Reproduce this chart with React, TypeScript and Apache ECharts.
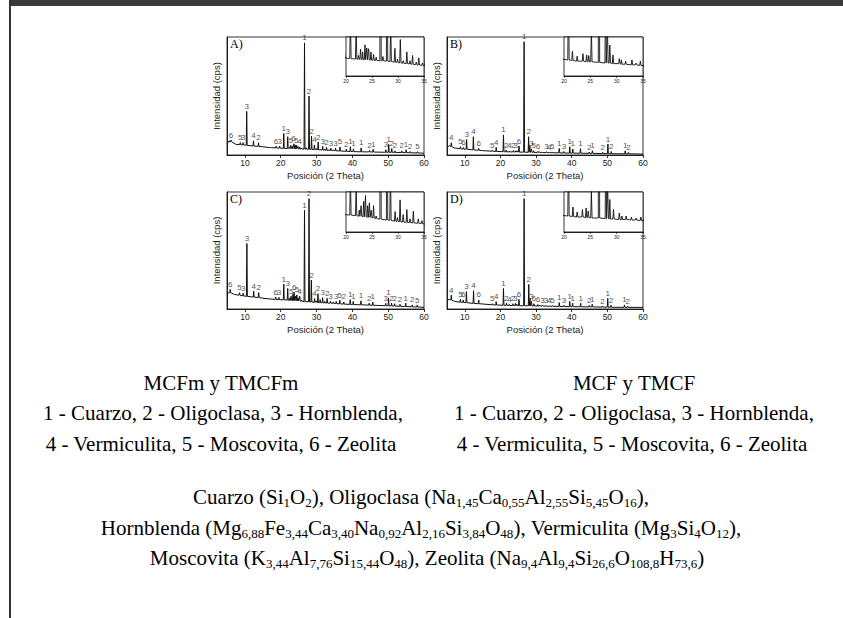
import React, { useEffect, useRef } from 'react';
import * as echarts from 'echarts';

type Peak = [number, number, number, string];

// [2θ, peak top, local baseline, mineral label]
const peaksA: Peak[] = [
  [5.0, 10, 10, ''], [5.6, 12, 11, ''], [6.1, 12.7, 11.4, '6'], [7.5, 9, 9, ''],
  [8.7, 10.5, 8.8, '5'], [9.5, 10.5, 8.6, '3'], [10.5, 37, 8.2, '3'], [12.4, 12, 7.6, '4'],
  [13.8, 10.4, 7.3, '2'], [15, 7, 7, ''], [17, 6.4, 6.3, ''], [18.7, 7.6, 6, '6'],
  [19.7, 7.6, 5.8, '3'], [20.85, 18.3, 5.6, '1'], [21.95, 15.5, 5.5, '3'], [22.4, 6.5, 5.4, ''],
  [22.8, 8.3, 5.4, '5'], [23.2, 7.5, 5.3, ''], [23.65, 9.5, 5.3, '6'], [24.0, 8.6, 5.3, ''],
  [24.35, 8.4, 5.2, '5'], [24.8, 7.5, 5.2, ''], [25.3, 6.8, 5.1, '4'], [25.8, 6, 5.1, ''],
  [26.64, 95, 5, '1'], [27.1, 6.2, 5, ''], [27.9, 50, 4.9, '2'], [28.6, 16, 4.8, '2'],
  [29.4, 8.5, 4.6, '4'], [29.9, 5.5, 4.5, ''], [30.45, 11, 4.4, '2'], [31.0, 5, 4.3, ''],
  [31.7, 7.5, 4.2, '3'], [32.3, 5, 4.1, ''], [32.8, 6.5, 4.0, '2'], [33.5, 4.6, 3.9, ''],
  [34.0, 5.8, 3.8, '3'], [34.7, 4.4, 3.7, ''], [35.3, 5.8, 3.6, '3'], [36.55, 6.8, 3.4, '5'],
  [38.3, 5, 3.1, '2'], [39.45, 7, 3.0, '1'], [40.3, 5.2, 2.9, '1'], [42.45, 6, 2.7, '1'],
  [44.8, 4, 2.6, '2'], [45.8, 4.8, 2.5, '1'], [49.35, 4.5, 2.3, '3'], [50.15, 9, 2.3, '1'],
  [51.0, 5.5, 2.3, '2'], [51.9, 3.5, 2.2, '2'], [53.8, 3.5, 2.1, '2'], [55.0, 4.5, 2.0, '1'],
  [56.1, 3, 1.9, '2'], [58.2, 2.8, 1.7, '5'], [60, 1.5, 1.5, ''],
];

const peaksB: Peak[] = [
  [5.0, 7, 7, ''], [5.7, 8, 7.5, ''], [6.2, 10.4, 7.2, '4'], [7.0, 6, 6, ''],
  [8.75, 7, 5.3, '5'], [9.6, 6.3, 5.0, '6'], [10.5, 13.2, 4.9, '3'], [12.4, 15.5, 4.3, '4'],
  [13.9, 5.6, 4.0, '6'], [15, 3.7, 3.7, ''], [17.7, 4.2, 3.2, '5'], [18.8, 6.5, 3.0, '4'],
  [20.85, 17, 2.8, '1'], [21.6, 4.2, 2.7, '2'], [22.5, 3.4, 2.6, '4'], [23.6, 3.8, 2.6, '2'],
  [24.3, 3.6, 2.5, '3'], [24.7, 3.5, 2.5, ''], [25.2, 7.6, 2.5, '6'], [26.64, 96, 2.4, '1'],
  [27.9, 15.5, 2.3, '2'], [28.25, 8, 2.3, ''], [28.7, 5.2, 2.3, '3'], [29.3, 3.6, 2.2, '5'],
  [30.5, 3.0, 2.2, '6'], [30.9, 2.8, 2.1, ''], [31.7, 2.6, 2.1, ''], [32.9, 2.8, 2.0, '3'],
  [33.7, 2.3, 2.0, '4'], [34.5, 2.6, 1.9, '5'], [36.5, 5.6, 1.8, '1'], [37.8, 3.0, 1.7, '3'],
  [39.45, 7, 1.6, '1'], [40.3, 5.1, 1.6, '1'], [42.45, 5.4, 1.5, '1'], [44.9, 2.5, 1.4, '2'],
  [45.8, 3.7, 1.4, '1'], [48.7, 2.3, 1.2, '2'], [50.15, 9.3, 1.2, '1'], [51.1, 3.0, 1.1, '2'],
  [55.0, 3.5, 1.0, '1'], [55.9, 2.2, 1.0, '2'], [60, 0.8, 0.8, ''],
];

const peaksC: Peak[] = [
  [5.0, 13.4, 13.4, ''], [5.9, 16.8, 14, '6'], [7.0, 12.5, 12.5, ''], [8.5, 13.9, 11.8, '5'],
  [9.5, 13.5, 11.2, '3'], [10.55, 56, 10.8, '3'], [12.45, 15.3, 10.2, '4'], [13.85, 14, 9.8, '2'],
  [15, 9.2, 9.2, ''], [17, 8.6, 8.6, ''], [18.6, 10.2, 8.2, '6'], [19.5, 10, 8, '3'],
  [20.85, 21.3, 7.8, '1'], [21.95, 17.6, 7.6, '3'], [22.55, 9.5, 7.4, ''], [22.9, 11, 7.4, '5'],
  [23.4, 12.5, 7.2, ''], [23.75, 14.5, 7.2, '6'], [24.15, 11, 7.0, ''], [24.5, 12, 7.0, '5'],
  [24.85, 9.5, 6.9, ''], [25.3, 11, 6.8, '4'], [25.8, 7.5, 6.6, ''], [26.64, 84.4, 6.4, '1'],
  [27.9, 94.3, 6.1, '2'], [28.55, 24.7, 6.0, '2'], [29.45, 9, 5.7, '4'], [29.9, 7, 5.6, ''],
  [30.4, 13, 5.5, '2'], [31.0, 8, 5.4, ''], [31.7, 9.7, 5.3, '3'], [32.3, 6.5, 5.2, ''],
  [32.95, 9.1, 5.1, '2'], [33.9, 6.5, 5.0, '3'], [34.6, 5.9, 4.9, ''], [35.5, 6.5, 4.6, '3'],
  [36.5, 7.5, 4.4, '5'], [37.6, 6, 4.2, '2'], [39.4, 8, 3.9, '1'], [40.25, 6.5, 3.8, '1'],
  [42.4, 7, 3.6, '1'], [44.7, 5, 3.3, '2'], [45.7, 6, 3.2, '1'], [49.3, 4.8, 2.8, '3'],
  [50.1, 9.5, 2.7, '1'], [50.95, 5, 2.6, '2'], [51.8, 4.5, 2.5, '2'], [53.3, 4, 2.3, '2'],
  [54.9, 5, 2.1, '1'], [56.7, 3.5, 1.9, '2'], [58.1, 3.3, 1.7, '5'], [60, 1.4, 1.4, ''],
];

const peaksD: Peak[] = [
  [5.0, 7.7, 7.7, ''], [5.7, 8.5, 8, ''], [6.2, 11.9, 7.6, '4'], [7.2, 6.5, 6.5, ''],
  [8.75, 8.2, 5.8, '5'], [9.55, 7.7, 5.6, '6'], [10.45, 14.8, 5.4, '3'], [12.45, 15.6, 4.8, '4'],
  [13.9, 7.7, 4.5, '6'], [15, 4.3, 4.3, ''], [17.7, 4.5, 3.6, '5'], [18.8, 6.3, 3.4, '4'],
  [20.85, 17.6, 3.2, '1'], [21.7, 5.0, 3.1, '2'], [22.5, 4.0, 3.0, '4'], [23.5, 4.5, 3.0, '2'],
  [24.2, 4.8, 2.9, '3'], [24.6, 4.2, 2.9, ''], [25.2, 8.2, 2.8, '6'], [26.64, 94.3, 2.8, '1'],
  [27.95, 21, 2.7, '2'], [28.3, 9, 2.7, ''], [28.7, 6.5, 2.6, '3'], [29.4, 4.5, 2.6, '6'],
  [30.5, 3.8, 2.5, '6'], [31.0, 3.2, 2.5, ''], [31.8, 3.2, 2.5, '3'], [32.8, 3.0, 2.4, '3'],
  [33.7, 2.8, 2.4, '4'], [34.6, 3.0, 2.3, '5'], [36.5, 5.5, 2.2, '1'], [37.8, 3.2, 2.1, '3'],
  [39.45, 6.5, 2.0, '1'], [40.25, 5, 2.0, '1'], [42.5, 5, 1.9, '1'], [44.9, 3, 1.8, '2'],
  [45.75, 4, 1.8, '1'], [48.6, 2.5, 1.6, '2'], [50.1, 9.1, 1.6, '1'], [51.0, 3.2, 1.5, '2'],
  [54.8, 3.5, 1.4, '1'], [55.7, 2.4, 1.4, '2'], [60, 1.4, 1.4, ''],
];

const panels = [peaksA, peaksB, peaksC, peaksD];
const panelLetters = ['A)', 'B)', 'C)', 'D)'];
const xTicksMain = [10, 20, 30, 40, 50, 60];
const insetXMin = 20;
const insetXMax = 35;
const insetYRanges = [[0.7, 11.7], [0.2, 6.5], [2, 15.7], [0, 8]];

const xAxisName = 'Posición (2 Theta)';
const yAxisName = 'Intensidad (cps)';

const legendLeftTitle = 'MCFm y TMCFm';
const legendRightTitle = 'MCF y TMCF';
const legendLine1 = '1 - Cuarzo, 2 - Oligoclasa, 3 - Hornblenda,';
const legendLine2 = '4 - Vermiculita, 5 - Moscovita, 6 - Zeolita';
const formulaLines = [
  'Cuarzo (Si{s|1}O{s|2}), Oligoclasa (Na{s|1,45}Ca{s|0,55}Al{s|2,55}Si{s|5,45}O{s|16}),',
  'Hornblenda (Mg{s|6,88}Fe{s|3,44}Ca{s|3,40}Na{s|0,92}Al{s|2,16}Si{s|3,84}O{s|48}), Vermiculita (Mg{s|3}Si{s|4}O{s|12}),',
  'Moscovita (K{s|3,44}Al{s|7,76}Si{s|15,44}O{s|48}), Zeolita (Na{s|9,4}Al{s|9,4}Si{s|26,6}O{s|108,8}H{s|73,6})',
];

const mainGrids = [
  { left: 227, top: 37, width: 197, height: 118 },
  { left: 447, top: 37, width: 196, height: 118 },
  { left: 227, top: 192, width: 197, height: 117 },
  { left: 447, top: 192, width: 196, height: 117 },
];
const insetGrids = [
  { left: 346, top: 37, width: 78, height: 39 },
  { left: 564, top: 37, width: 79, height: 39 },
  { left: 346, top: 192, width: 78, height: 40 },
  { left: 564, top: 192, width: 79, height: 40 },
];

const SANS = 'Liberation Sans';
const SERIF = 'Liberation Serif';

function toLine(peaks: Peak[], w: number) {
  const pts: number[][] = [];
  for (const [p, top, base] of peaks) {
    if (top === base) pts.push([p, base]);
    else pts.push([p - w, base], [p, top], [p + w, base]);
  }
  return pts;
}

function serifText(text: string, x: number, y: number, extra: any = {}) {
  return {
    type: 'text',
    x,
    y,
    silent: true,
    style: {
      text,
      fontFamily: SERIF,
      fontSize: 21,
      fill: '#000',
      align: 'center',
      verticalAlign: 'middle',
      ...extra,
    },
  };
}

export default function App() {
  const ref = useRef<HTMLDivElement>(null);
  useEffect(() => {
    if (!ref.current) return;
    const chart = echarts.init(ref.current, undefined, { renderer: 'svg' });

    const grids: any[] = [];
    const xAxes: any[] = [];
    const yAxes: any[] = [];
    const series: any[] = [];

    mainGrids.forEach((g, i) => {
      grids.push({ ...g, show: true, borderColor: '#000', borderWidth: 0.8, backgroundColor: 'transparent' });
      xAxes.push({
        type: 'value', gridIndex: i, min: 5, max: 60,
        axisLine: { show: true, lineStyle: { color: '#000', width: 0.8 } },
        axisTick: { show: true, length: 3, customValues: xTicksMain, lineStyle: { color: '#000', width: 0.8 } },
        axisLabel: { show: true, customValues: xTicksMain, fontSize: 8.5, color: '#222', margin: 3, fontFamily: SANS },
        splitLine: { show: false },
        name: xAxisName, nameLocation: 'middle', nameGap: 15,
        nameTextStyle: { fontSize: 9.5, fontFamily: SANS, color: '#222' },
      });
      yAxes.push({
        type: 'value', gridIndex: i, min: 0, max: 100,
        axisLine: { show: true, lineStyle: { color: '#000', width: 0.8 } },
        axisTick: { show: false }, axisLabel: { show: false }, splitLine: { show: false },
        name: yAxisName, nameLocation: 'middle', nameGap: 6, nameRotate: 90,
        nameTextStyle: { fontSize: 9.5, fontFamily: SANS, color: '#222' },
      });
    });
    insetGrids.forEach((g, i) => {
      grids.push({ ...g, show: true, borderColor: '#000', borderWidth: 0.8, backgroundColor: '#fff', z: 3 });
      xAxes.push({
        type: 'value', gridIndex: 4 + i, min: insetXMin, max: insetXMax, interval: 5,
        axisLine: { show: true, lineStyle: { color: '#000', width: 0.8 } },
        axisTick: { show: true, length: 2, lineStyle: { color: '#000', width: 0.6 } },
        axisLabel: { show: true, fontSize: 5, color: '#222', margin: 2, fontFamily: SANS },
        splitLine: { show: false },
      });
      yAxes.push({
        type: 'value', gridIndex: 4 + i, min: insetYRanges[i][0], max: insetYRanges[i][1],
        axisLine: { show: true, lineStyle: { color: '#000', width: 0.8 } },
        axisTick: { show: false }, axisLabel: { show: false }, splitLine: { show: false },
      });
    });

    panels.forEach((peaks, i) => {
      series.push({
        type: 'line', xAxisIndex: i, yAxisIndex: i, data: toLine(peaks, 0.13),
        showSymbol: false, symbol: 'none', silent: true,
        lineStyle: { color: '#111', width: 1 },
      });
      series.push({
        type: 'scatter', xAxisIndex: i, yAxisIndex: i, symbolSize: 0, silent: true,
        itemStyle: { color: '#222' },
        data: peaks.filter((p) => p[3]).map((p) => ({ value: [p[0], p[1]], t: p[3] })),
        label: {
          show: true, position: 'top', distance: 1, formatter: (pr: any) => pr.data.t,
          fontSize: 8, color: '#222', fontFamily: SANS,
        },
      });
      series.push({
        type: 'line', xAxisIndex: 4 + i, yAxisIndex: 4 + i, data: toLine(peaks, 0.13),
        showSymbol: false, symbol: 'none', silent: true, clip: true, z: 5,
        lineStyle: { color: '#111', width: 0.9 },
      });
    });

    const graphics: any[] = [
      { type: 'rect', shape: { x: 10, y: 0, width: 833, height: 6 }, style: { fill: '#3a3a3a' }, silent: true },
      { type: 'rect', shape: { x: 9, y: 0, width: 2, height: 618 }, style: { fill: '#333' }, silent: true },
    ];
    panelLetters.forEach((t, i) => {
      graphics.push({
        type: 'text', x: mainGrids[i].left + 3, y: mainGrids[i].top + 1, silent: true, z: 10,
        style: { text: t, fontFamily: SERIF, fontSize: 12, fill: '#000' },
      });
    });
    graphics.push(serifText(legendLeftTitle, 221, 383));
    graphics.push(serifText(legendLine1, 223, 413));
    graphics.push(serifText(legendLine2, 221, 444));
    graphics.push(serifText(legendRightTitle, 634, 383));
    graphics.push(serifText(legendLine1, 634, 413));
    graphics.push(serifText(legendLine2, 632, 444));
    const formulaY = [497, 528, 558];
    formulaLines.forEach((t, i) => {
      graphics.push(serifText(t, i === 2 ? 427 : 421, formulaY[i], {
        lineHeight: 24,
        rich: { s: { fontSize: 13, lineHeight: 13, verticalAlign: 'bottom', fontFamily: SERIF, fill: '#000' } },
      }));
    });

    chart.setOption({
      animation: false,
      backgroundColor: '#fff',
      grid: grids,
      xAxis: xAxes,
      yAxis: yAxes,
      series,
      graphic: graphics,
    });
    return () => chart.dispose();
  }, []);
  return <div ref={ref} style={{ position: 'absolute', left: 0, top: 0, width: 843, height: 618 }} />;
}
